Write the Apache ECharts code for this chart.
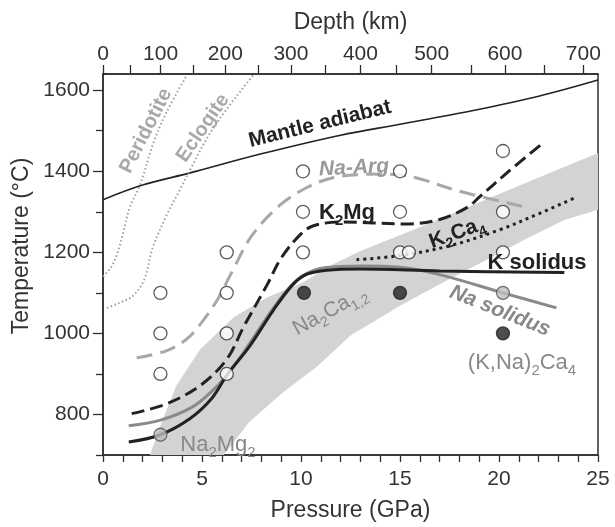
<!DOCTYPE html>
<html><head><meta charset="utf-8">
<script src="https://cdn.jsdelivr.net/npm/echarts@6/dist/echarts.min.js"></script>
<style>html,body{margin:0;padding:0;background:#fff}#c{width:615px;height:527px}</style>
</head><body><div id="c"></div>
<script>
// ---- axis ticks ----
const depthKm  = [0, 50, 100, 150, 200, 250, 300, 350, 400, 450, 500, 550, 600, 650, 700];
const depthGPa = [0, 1.39, 2.91, 4.56, 6.18, 7.82, 9.49, 11.2, 13.0, 14.8, 16.6, 18.6, 20.3, 22.3, 24.26];
const pressureLabels = [0, 5, 10, 15, 20, 25];
const tempLabels = [800, 1000, 1200, 1400, 1600];
const tempMinorTicks = [700, 900, 1100, 1300, 1500];

// ---- curves [P (GPa), T (°C)] ----
const mantleAdiabat = [[0,1330],[2,1366],[4.4,1396],[8,1443],[12,1489],[15,1516],[18.7,1550],[22,1585],[25,1625]];
const peridotite = [[0,1140],[0.4,1163],[0.7,1194],[1.0,1245],[1.36,1312],[1.87,1366],[2.54,1469],[3.2,1545],[4.25,1638]];
const eclogite = [[0.2,1063],[0.8,1075],[1.5,1092],[2.1,1135],[2.5,1210],[3.2,1290],[3.9,1356],[4.4,1404],[5.6,1509],[7.6,1638]];
const bandUpper = [[2.37,700],[3.0,785],[3.7,871],[4.9,960],[6.6,1040],[8.3,1089],[10,1123],[11.6,1170],[13,1203],[16,1262],[20.4,1352],[25,1445]];
const bandLower = [[6.1,700],[7.4,782],[9.1,855],[10.8,918],[12.5,995],[15,1068],[17,1121],[19.5,1185],[21.4,1234],[23.3,1280],[25,1305]];
const kSolidus = [[1.3,732],[2.9,750],[4.4,790],[5.5,840],[6.3,900],[7.4,968],[8.6,1057],[9.6,1121],[10.3,1146],[11.3,1156],[13,1159],[17,1154],[23.3,1150]];
const naSolidus = [[1.3,772],[2.9,786],[4.5,818],[5.6,862],[6.5,912],[7.4,975],[8.5,1055],[9.5,1118],[10.3,1148],[11.2,1162],[13,1166],[15,1163],[17,1145],[20.2,1100],[22.9,1063]];
const k2Mg = [[1.45,802],[3.2,826],[4.9,871],[6.25,936],[7.1,1016],[8.3,1121],[9.0,1186],[9.95,1243],[10.6,1265],[12,1275],[15.3,1270],[17,1281],[18.4,1311],[19.0,1336],[20.4,1396],[22.1,1465]];
const naArg = [[1.7,940],[3.2,957],[4.2,985],[5.0,1028],[5.8,1085],[6.6,1160],[7.5,1240],[8.9,1315],[10.3,1360],[11.6,1384],[13,1392],[14.2,1393],[15.8,1384],[17.9,1352],[21.4,1311]];
const k2Ca4 = [[12.8,1182],[15,1192],[17.5,1216],[20,1255],[22,1295],[23.9,1336]];

// ---- experiments ----
const openPts = [[2.9,1100],[2.9,1000],[2.9,900],[6.25,1200],[6.25,1100],[6.25,1000],[6.25,900],
  [10.1,1400],[10.1,1300],[10.1,1200],[15,1400],[15,1300],[15,1200],[15.45,1200],[20.2,1450],[20.2,1300],[20.2,1200]];
const filledPts = [[10.15,1100],[15,1100],[20.2,1000]];
const grayPts = [[2.9,750],[20.2,1100]];

const FONT = 'Liberation Sans, Arial, Helvetica, sans-serif';
const AX = '#2e2e2e';
const chart = echarts.init(document.getElementById('c'));

function line(data, color, width, type, z) {
  return { type: 'line', data, symbol: 'none', smooth: 0.35, silent: true, z: z || 3,
    lineStyle: { color, width, type, cap: 'butt' } };
}
function scatter(data, fill, border) {
  return { type: 'scatter', data, symbolSize: 13, z: 6, silent: true,
    itemStyle: { color: fill, borderColor: border, borderWidth: 1.3 } };
}
const bandPoly = bandUpper.concat(bandLower.slice().reverse());

function txt(text, x, y, rot, opts) {
  return { type: 'text', x, y, rotation: rot, z: 100, silent: true,
    style: Object.assign({ text, fontFamily: FONT, align: 'center', verticalAlign: 'middle',
      textAlign: 'center', textVerticalAlign: 'middle' }, opts) };
}
function sub(parts, x, y, rot, color, fs, fw) {
  const rich = {
    n: { fontSize: fs, fontWeight: fw, fontFamily: FONT, fill: color, lineHeight: fs + 8 },
    s: { fontSize: Math.round(fs * 0.66), fontWeight: fw, fontFamily: FONT, fill: color, lineHeight: Math.round(fs * 0.66), verticalAlign: 'bottom' }
  };
  return txt(parts, x, y, rot, { rich, fill: color, fontSize: fs });
}

chart.setOption({
  animation: false,
  textStyle: { fontFamily: FONT },
  grid: { left: 103, right: 17, top: 74, bottom: 67, show: true, borderColor: AX, borderWidth: 1.5, backgroundColor: 'transparent' },
  xAxis: [
    { type: 'value', position: 'bottom', min: 0, max: 25, interval: 1,
      name: 'Pressure (GPa)', nameLocation: 'middle', nameGap: 44,
      nameTextStyle: { fontSize: 23, color: '#333' },
      axisLine: { lineStyle: { color: AX, width: 1.5 } },
      axisTick: { length: 7, lineStyle: { color: AX, width: 1.3 } },
      axisLabel: { fontSize: 21, color: '#333', margin: 14, formatter: v => (pressureLabels.includes(v) ? String(v) : '') },
      splitLine: { show: false } },
    { type: 'value', position: 'top', min: 0, max: 25,
      name: 'Depth (km)', nameLocation: 'middle', nameGap: 40,
      nameTextStyle: { fontSize: 23, color: '#333' },
      axisLine: { lineStyle: { color: AX, width: 1.5 } },
      axisTick: { length: 9, customValues: depthGPa, lineStyle: { color: AX, width: 1.3 } },
      axisLabel: { fontSize: 21, color: '#333', margin: 9,
        customValues: depthGPa.filter((_, i) => depthKm[i] % 100 === 0),
        formatter: v => { let b = 0; depthGPa.forEach((g, i) => { if (Math.abs(g - v) < Math.abs(depthGPa[b] - v)) b = i; }); return String(depthKm[b]); } },
      splitLine: { show: false } }
  ],
  yAxis: [
    { type: 'value', position: 'left', min: 700, max: 1640,
      axisLine: { show: true, lineStyle: { color: AX, width: 1.5 } },
      axisTick: { show: true, length: 10, customValues: tempLabels, lineStyle: { color: AX, width: 1.3 } },
      axisLabel: { fontSize: 21, color: '#333', margin: 13, customValues: tempLabels, formatter: v => String(v) },
      splitLine: { show: false } },
    { type: 'value', position: 'left', min: 700, max: 1640, offset: 0,
      axisLine: { show: false },
      axisTick: { show: true, length: 7, customValues: tempMinorTicks, lineStyle: { color: AX, width: 1.3 } },
      axisLabel: { show: false },
      splitLine: { show: false } }
  ],
  series: [
    { type: 'custom', silent: true, z: 1, data: [0],
      renderItem: (params, api) => ({ type: 'polygon',
        shape: { points: bandPoly.map(d => api.coord(d)) },
        style: { fill: '#d3d3d3' } }) },
    line(mantleAdiabat, '#222', 1.6, 'solid'),
    line(peridotite, '#a0a0a0', 2, [1.5, 2.5]),
    line(eclogite, '#a0a0a0', 2, [1.5, 2.5]),
    line(naArg, '#a8a8a8', 3, [16, 8]),
    line(k2Mg, '#222', 3, [13, 6]),
    line(k2Ca4, '#222', 3, [3, 4]),
    line(naSolidus, '#8a8a8a', 3, 'solid', 3),
    line(kSolidus, '#222', 3, 'solid', 4),
    scatter(openPts, '#ffffff', '#333'),
    scatter(filledPts, '#222', '#222'),
    scatter(grayPts, '#bdbdbd', '#555')
  ],
  graphic: [
    txt('Temperature (°C)', 22, 246, Math.PI / 2, { fontSize: 23, fill: '#333' }),
    txt('Mantle adiabat', 320, 124, 0.24, { fontSize: 21, fontWeight: 'bold', fill: '#222' }),
    txt('Peridotite', 146, 131, 1.1, { fontSize: 20, fontWeight: 'bold', fill: '#a8a8a8' }),
    txt('Eclogite', 203, 128, 0.97, { fontSize: 20, fontWeight: 'bold', fill: '#a8a8a8' }),
    txt('Na-Arg', 354, 168, 0.05, { fontSize: 21, fontWeight: 'bold', fontStyle: 'italic', fill: '#999' }),
    sub('{n|K}{s|2}{n|Mg}', 347, 213, 0, '#222', 22, 'bold'),
    sub('{n|K}{s|2}{n|Ca}{s|4}', 457, 233, 0.35, '#222', 21, 'bold'),
    txt('K solidus', 537, 263, 0, { fontSize: 22, fontWeight: 'bold', fill: '#222' }),
    txt('Na solidus', 500, 311, -0.38, { fontSize: 21, fontWeight: 'bold', fontStyle: 'italic', fill: '#888' }),
    sub('{n|Na}{s|2}{n|Ca}{s|1,2}', 330, 311, 0.5, '#888', 21, 'normal'),
    sub('{n|Na}{s|2}{n|Mg}{s|2}', 218, 445, 0, '#888', 22, 'normal'),
    sub('{n|(K,Na)}{s|2}{n|Ca}{s|4}', 522, 363, 0, '#888', 22, 'normal')
  ]
});
</script></body></html>
